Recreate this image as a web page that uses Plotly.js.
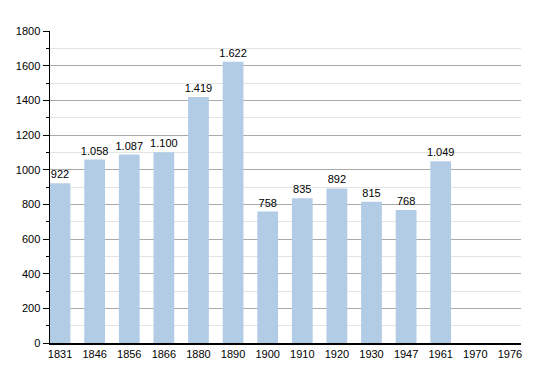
<!DOCTYPE html>
<html>
<head>
<meta charset="utf-8">
<script src="https://cdn.plot.ly/plotly-3.0.1.min.js"></script>
<style>html,body{margin:0;padding:0;background:#fff;}#chart{width:550px;height:373px;}</style>
</head>
<body>
<div id="chart"></div>
<script>
const years = ["1831","1846","1856","1866","1880","1890","1900","1910","1920","1930","1947","1961","1970","1976"];
const population = [922,1058,1087,1100,1419,1622,758,835,892,815,768,1049,null,null];
const valueLabels = ["922","1.058","1.087","1.100","1.419","1.622","758","835","892","815","768","1.049","",""];

const trace = {
  type: "bar",
  x: years,
  y: population,
  text: valueLabels,
  textposition: "outside",
  constraintext: "none",
  cliponaxis: false,
  textfont: {family: "Liberation Sans, Arial, sans-serif", size: 11, color: "#000"},
  marker: {color: "#b2cce5"},
  hoverinfo: "x+y"
};

const layout = {
  width: 550, height: 373,
  margin: {l: 50, r: 29, t: 31, b: 30},
  paper_bgcolor: "#fff", plot_bgcolor: "#fff",
  bargap: 0.4,
  showlegend: false,
  font: {family: "Liberation Sans, Arial, sans-serif", size: 11, color: "#000"},
  xaxis: {
    type: "category",
    range: [-0.29, 13.32],
    showline: true, linecolor: "#000", linewidth: 1.5,
    ticks: "", showgrid: false,
    tickfont: {size: 11}
  },
  yaxis: {
    range: [0, 1800],
    dtick: 200,
    showline: true, linecolor: "#000", linewidth: 1.5,
    ticks: "outside", ticklen: 6, tickcolor: "#000",
    gridcolor: "#aaaaaa", gridwidth: 1,
    zeroline: false,
    tickfont: {size: 11},
    minor: {dtick: 100, showgrid: true, gridcolor: "#e4e4e4", ticks: "outside", ticklen: 3, tickcolor: "#000"}
  }
};

Plotly.newPlot("chart", [trace], layout, {displayModeBar: false, staticPlot: true});
</script>
</body>
</html>
